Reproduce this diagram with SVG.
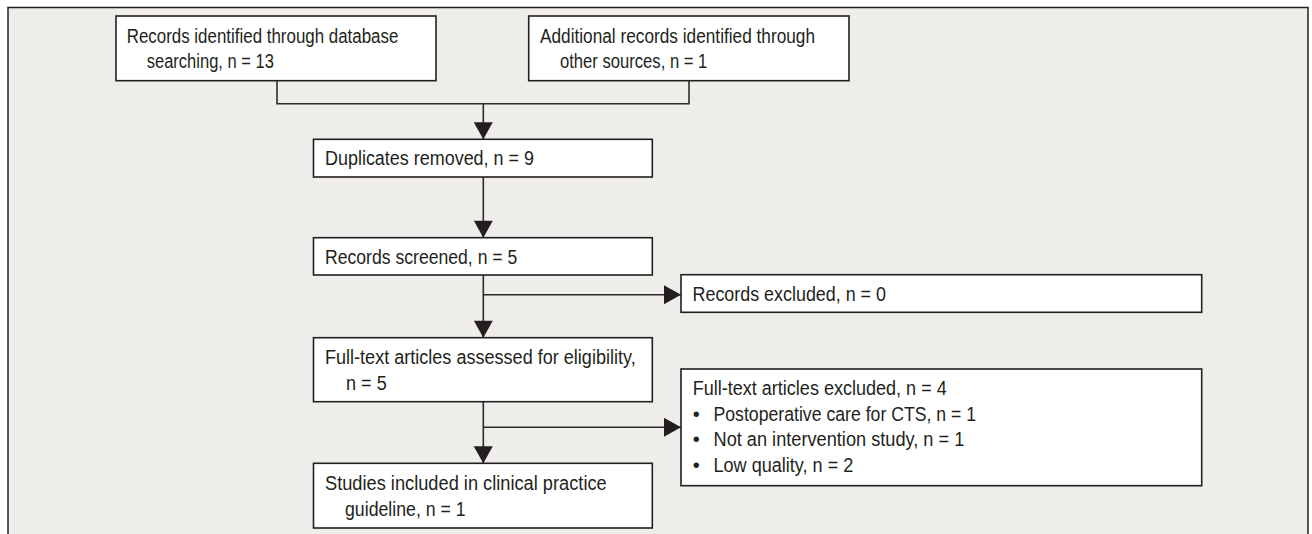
<svg xmlns="http://www.w3.org/2000/svg" width="1312" height="534" viewBox="0 0 1312 534">
  <defs>
    <style>
      .frame { fill: #efedea; stroke: #231f20; stroke-width: 1.5; }
      .box { fill: #ffffff; stroke: #231f20; stroke-width: 1.6; }
      .t { font-family: "Liberation Sans Narrow", "Liberation Sans", Arial, sans-serif; font-size: 20px; fill: #231f20; }
      .conn { fill: none; stroke: #2e2b2c; stroke-width: 1.6; }
    </style>
    <marker id="ah" markerUnits="userSpaceOnUse" markerWidth="18" markerHeight="19" viewBox="0 0 17 19" refX="17" refY="9.5" orient="auto">
      <path d="M0,0 L17,9.5 L0,19 Z" fill="#231f20"/>
    </marker>
  </defs>

  <rect x="0" y="0" width="1312" height="534" fill="#ffffff"/>
  <rect class="frame" x="8" y="7.5" width="1300" height="540"/>

  <g id="connectors">
    <polyline class="conn" points="277,80.7 277,103.7 689,103.7 689,80.7"/>
    <line class="conn" x1="483.3" y1="103.7" x2="483.3" y2="139.3" marker-end="url(#ah)"/>
    <line class="conn" x1="483.3" y1="177" x2="483.3" y2="237.7" marker-end="url(#ah)"/>
    <line class="conn" x1="483.3" y1="275" x2="483.3" y2="337.7" marker-end="url(#ah)"/>
    <line class="conn" x1="483.3" y1="294.7" x2="681" y2="294.7" marker-end="url(#ah)"/>
    <line class="conn" x1="483.3" y1="401.7" x2="483.3" y2="463.3" marker-end="url(#ah)"/>
    <line class="conn" x1="483.3" y1="427.3" x2="681" y2="427.3" marker-end="url(#ah)"/>
  </g>

  <g id="n-database">
    <rect class="box" x="116" y="16" width="320" height="64.7"/>
    <text class="t" x="126.7" y="42.6" textLength="271.7" lengthAdjust="spacingAndGlyphs">Records identified through database</text>
    <text class="t" x="146.7" y="68.3" textLength="127.3" lengthAdjust="spacingAndGlyphs">searching, n = 13</text>
  </g>

  <g id="n-other">
    <rect class="box" x="528.7" y="16" width="320.3" height="64.7"/>
    <text class="t" x="540" y="42.6" textLength="275" lengthAdjust="spacingAndGlyphs">Additional records identified through</text>
    <text class="t" x="560" y="68.3" textLength="147.3" lengthAdjust="spacingAndGlyphs">other sources, n = 1</text>
  </g>

  <g id="n-duplicates">
    <rect class="box" x="313.5" y="139.3" width="338.8" height="37.7"/>
    <text class="t" x="325" y="165.2" textLength="209" lengthAdjust="spacingAndGlyphs">Duplicates removed, n = 9</text>
  </g>

  <g id="n-screened">
    <rect class="box" x="313.5" y="237.7" width="338.8" height="37.3"/>
    <text class="t" x="325" y="263.5" textLength="192.3" lengthAdjust="spacingAndGlyphs">Records screened, n = 5</text>
  </g>

  <g id="n-excluded">
    <rect class="box" x="681" y="274.7" width="520.7" height="37.6"/>
    <text class="t" x="692.5" y="300.7" textLength="193.5" lengthAdjust="spacingAndGlyphs">Records excluded, n = 0</text>
  </g>

  <g id="n-fulltext">
    <rect class="box" x="313.5" y="337.7" width="338.8" height="64"/>
    <text class="t" x="325" y="364.3" textLength="310.7" lengthAdjust="spacingAndGlyphs">Full-text articles assessed for eligibility,</text>
    <text class="t" x="346" y="390" textLength="40.7" lengthAdjust="spacingAndGlyphs">n = 5</text>
  </g>

  <g id="n-ft-excluded">
    <rect class="box" x="681" y="369" width="520.7" height="116.7"/>
    <text class="t" x="692.7" y="395" textLength="254" lengthAdjust="spacingAndGlyphs">Full-text articles excluded, n = 4</text>
    <text class="t" x="692.7" y="420.7">•</text>
    <text class="t" x="713.5" y="420.7" textLength="262.6" lengthAdjust="spacingAndGlyphs">Postoperative care for CTS, n = 1</text>
    <text class="t" x="692.7" y="446.4">•</text>
    <text class="t" x="713.5" y="446.4" textLength="250.8" lengthAdjust="spacingAndGlyphs">Not an intervention study, n = 1</text>
    <text class="t" x="692.7" y="472.1">•</text>
    <text class="t" x="713.5" y="472.1" textLength="139.8" lengthAdjust="spacingAndGlyphs">Low quality, n = 2</text>
  </g>

  <g id="n-included">
    <rect class="box" x="313.5" y="463.3" width="338.8" height="64.7"/>
    <text class="t" x="325" y="489.9" textLength="281.7" lengthAdjust="spacingAndGlyphs">Studies included in clinical practice</text>
    <text class="t" x="345" y="515.6" textLength="120.7" lengthAdjust="spacingAndGlyphs">guideline, n = 1</text>
  </g>
</svg>
